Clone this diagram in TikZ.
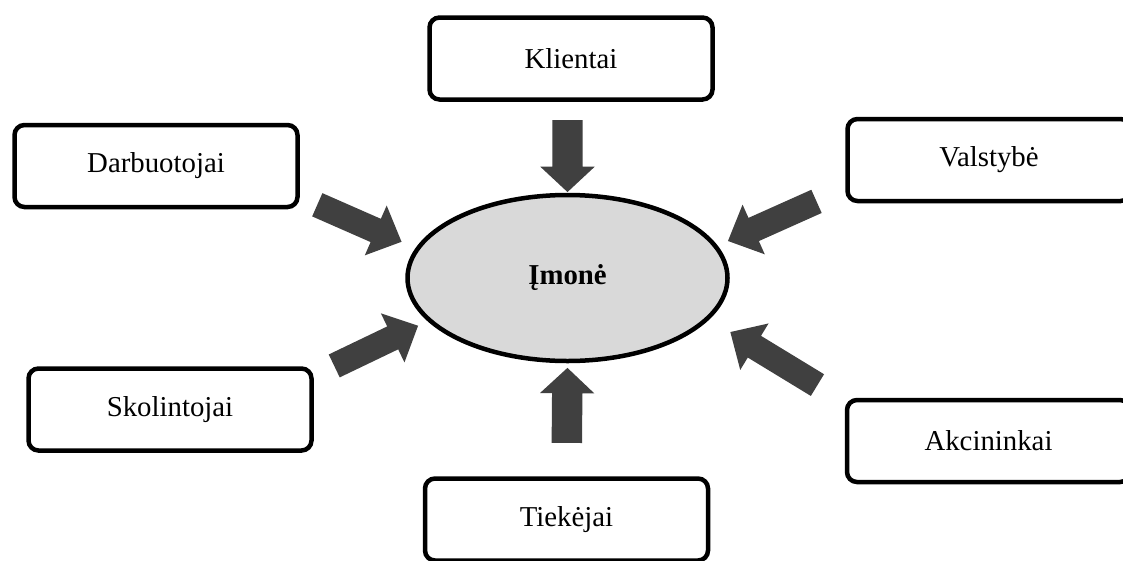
\documentclass[tikz,border=0pt]{standalone}
\usepackage{fontspec}
\setmainfont{Liberation Serif}
\usetikzlibrary{shapes.geometric,shapes.arrows}
\definecolor{arrowgray}{HTML}{404040}
\definecolor{hubgray}{HTML}{D9D9D9}
\tikzset{
  party/.style={draw=black, line width=4.5pt, rounded corners=10pt,
    minimum width=283pt, minimum height=82pt, inner sep=0pt, outer sep=0pt,
    fill=white, font=\fontsize{28.8}{34}\selectfont},
  hub/.style={ellipse, draw=black, line width=4.5pt, fill=hubgray,
    minimum width=320pt, minimum height=166pt, inner sep=0pt, outer sep=0pt,
    font=\bfseries\fontsize{28.8}{34}\selectfont},
  flow/.style={single arrow, draw=none, fill=arrowgray, inner xsep=0pt,
    outer sep=0pt, sloped, allow upside down, anchor=center},
  straightflow/.style={flow, inner ysep=15pt,
    single arrow head extend=12pt, single arrow tip angle=94},
  slantflow/.style={flow, inner ysep=12.5pt,
    single arrow head extend=14.5pt, single arrow tip angle=88},
}
\begin{document}
\begin{tikzpicture}[x=1pt,y=-1pt]
\useasboundingbox[fill=white] (0,0) rectangle (1123,560);

% the company in the middle
\node[hub] (imone) at (567.5,278) {Įmonė};

% the stakeholders around it
\node[party] (klient) at (571,58.5)   {Klientai};
\node[party] (darb)   at (156,166)    {Darbuotojai};
\node[party] (valst)  at (989,160)    {Valstybė};
\node[party] (skol)   at (170,409.5)  {Skolintojai};
\node[party] (akc)    at (988.5,441)  {Akcininkai};
\node[party] (tiek)   at (566.5,519.5) {Tiekėjai};

% block arrows pointing at the company
\path (klient.south -| imone.north) -- node[straightflow, pos=0.518, minimum height=72pt] {} (imone.north);
\path (tiek.north) -- node[straightflow, pos=0.562, minimum height=75pt] {} (imone.south);
\path (darb.-12.2) -- node[slantflow, pos=0.465, minimum height=92pt] {} (imone.169.4);
\path (valst.-169.2) -- node[slantflow, pos=0.525, minimum height=97pt] {} (imone.12);
\path (skol.13.4) -- node[slantflow, pos=0.497, minimum height=93pt] {} (imone.-163.2);
\path (akc.165.2) -- node[slantflow, pos=0.484, minimum height=102pt] {} (imone.-16.8);
\end{tikzpicture}
\end{document}
